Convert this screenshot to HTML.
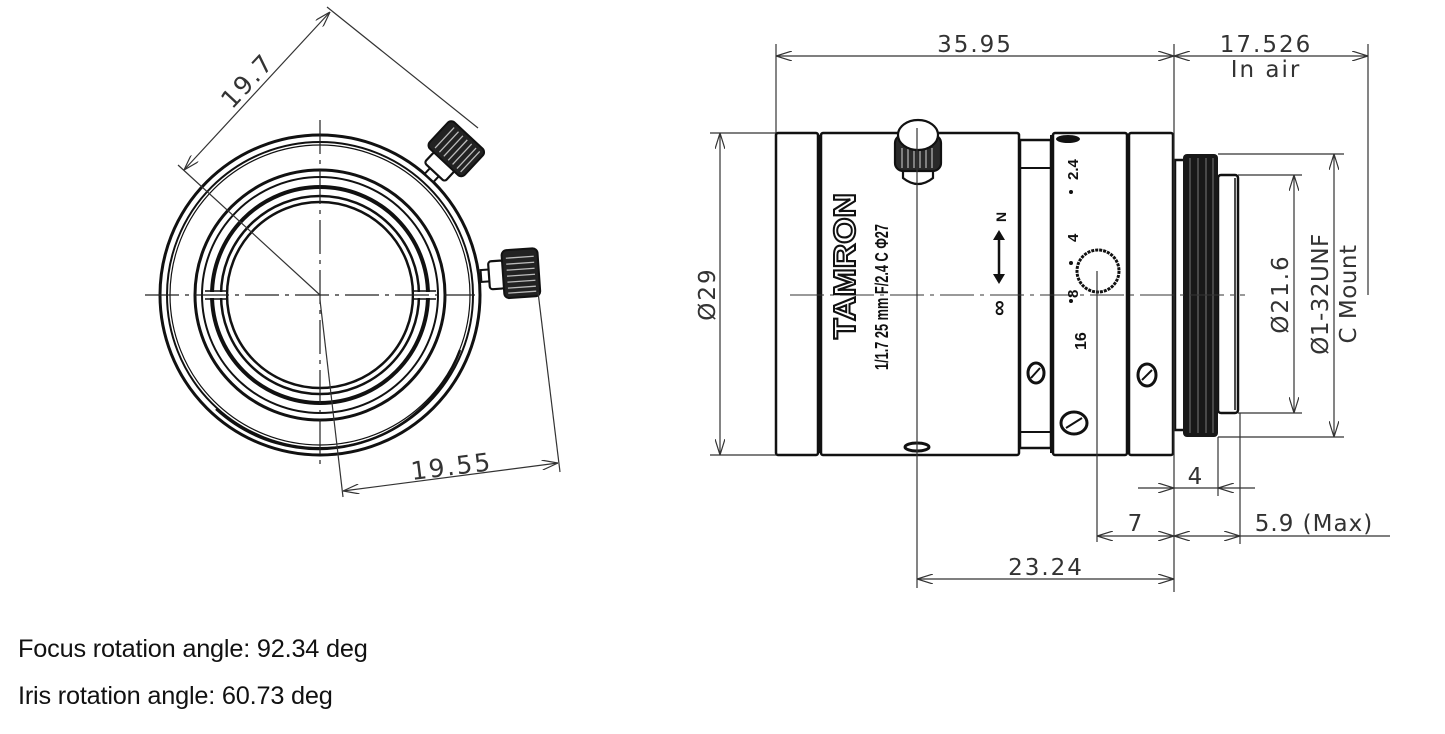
<!DOCTYPE html>
<html><head><meta charset="utf-8"><style>
html,body{margin:0;padding:0;background:#fff;width:1445px;height:734px;overflow:hidden}
svg{position:absolute;left:0;top:0}
.t{position:absolute;left:18px;font-family:"Liberation Sans",sans-serif;font-size:25.3px;color:#111;letter-spacing:-0.2px}
</style></head><body>
<svg width="1445" height="734" viewBox="0 0 1445 734" xmlns="http://www.w3.org/2000/svg">
<defs>
<marker id="a" viewBox="0 0 16 10" refX="16" refY="5" markerWidth="16" markerHeight="10" markerUnits="userSpaceOnUse" orient="auto-start-reverse">
<path d="M0,0 L16,5 L0,10" fill="none" stroke="#333" stroke-width="1.2"/></marker>
<g id="knob">
<rect x="0" y="-6" width="9" height="12" fill="#fff" stroke="#111" stroke-width="2"/>
<rect x="8" y="-14" width="15" height="28" rx="3" fill="#fff" stroke="#111" stroke-width="2.2"/>
<rect x="22" y="-24" width="36" height="48" rx="5" fill="#222" stroke="#111" stroke-width="2"/>
<g stroke="#bbb" stroke-width="1.3">
<line x1="26" y1="-16" x2="54" y2="-16"/><line x1="26" y1="-10" x2="54" y2="-10"/><line x1="26" y1="-4" x2="54" y2="-4"/><line x1="26" y1="2" x2="54" y2="2"/><line x1="26" y1="8" x2="54" y2="8"/><line x1="26" y1="14" x2="54" y2="14"/><line x1="26" y1="19" x2="54" y2="19"/>
</g></g>
</defs>

<!-- LEFT VIEW -->
<g fill="none" stroke="#111">
<circle cx="320" cy="295" r="160" stroke-width="3"/>
<circle cx="320" cy="295" r="153" stroke-width="2"/>
<circle cx="320" cy="295" r="150" stroke-width="1.2"/>
<circle cx="320" cy="295" r="125" stroke-width="3"/>
<circle cx="320" cy="295" r="118" stroke-width="2"/>
<circle cx="320" cy="295" r="108" stroke-width="4"/>
<circle cx="320" cy="295" r="99" stroke-width="2.5"/>
<circle cx="320" cy="295" r="93" stroke-width="2.5"/>
<path d="M216,409 A151 151 0 0 0 460 350" stroke-width="2.5"/>
</g>
<g stroke="#fff" stroke-width="6"><line x1="205" y1="295" x2="226" y2="295"/><line x1="414" y1="295" x2="436" y2="295"/></g>
<g stroke="#111" stroke-width="1.5"><line x1="205" y1="291" x2="226" y2="291"/><line x1="205" y1="299" x2="226" y2="299"/><line x1="414" y1="291" x2="436" y2="291"/><line x1="414" y1="299" x2="436" y2="299"/></g>
<g stroke="#222" stroke-width="1.2" stroke-dasharray="34,6,4,6" fill="none">
<line x1="145" y1="295" x2="475" y2="295"/>
<line x1="320" y1="120" x2="320" y2="470"/>
</g>
<use href="#knob" transform="translate(429,178) rotate(-47)"/>
<use href="#knob" transform="translate(481,276) rotate(-4)"/>
<!-- dims left -->
<g stroke="#333" stroke-width="1.2" fill="none">
<line x1="320" y1="295" x2="178" y2="165"/>
<line x1="327" y1="7" x2="478" y2="128"/>
<line x1="184" y1="170" x2="330" y2="12" marker-start="url(#a)" marker-end="url(#a)"/>
<line x1="320" y1="300" x2="343" y2="497"/>
<line x1="538" y1="292" x2="560" y2="472"/>
<line x1="343" y1="491" x2="558" y2="463" marker-start="url(#a)" marker-end="url(#a)"/>
</g>
<g font-family="'DejaVu Sans',sans-serif" font-size="25" fill="#333" letter-spacing="2">
<text transform="translate(232,110) rotate(-47)">19.7</text>
<text transform="translate(412,480) rotate(-7)">19.55</text>
</g>

<!-- RIGHT VIEW -->
<g fill="#fff" stroke="#111" stroke-width="2.5">
<rect x="1175" y="160" width="10" height="270"/>
<rect x="1218" y="175" width="20" height="238" rx="3"/>
<rect x="776" y="133" width="42" height="322" rx="2"/>
<rect x="821" y="133" width="198" height="322" rx="2"/>
<rect x="1020" y="140" width="31" height="308"/>
<rect x="1053" y="133" width="74" height="322" rx="2"/>
<rect x="1129" y="133" width="44" height="322" rx="2"/>
</g>
<rect x="1183" y="154" width="35" height="283" rx="4" fill="#181818"/>
<g stroke="#777" stroke-width="1"><line x1="1190" y1="158" x2="1190" y2="433"/><line x1="1198" y1="158" x2="1198" y2="433"/><line x1="1206" y1="158" x2="1206" y2="433"/><line x1="1213" y1="158" x2="1213" y2="433"/></g>
<line x1="1235" y1="178" x2="1235" y2="410" stroke="#111" stroke-width="1.5"/>
<g stroke="#111" stroke-width="2"><line x1="1020" y1="168" x2="1051" y2="168"/><line x1="1020" y1="432" x2="1051" y2="432"/></g>
<g stroke="#111" stroke-width="4"><line x1="819" y1="135" x2="819" y2="453"/><line x1="1052" y1="135" x2="1052" y2="453"/><line x1="1128" y1="135" x2="1128" y2="453"/></g>
<!-- top knob -->
<g stroke="#111" stroke-width="2.2">
<path d="M903,166 L903,178 Q918,190 933,178 L933,166" fill="#fff"/>
<rect x="895" y="135" width="46" height="36" rx="8" fill="#2a2a2a"/>
<g stroke="#bbb" stroke-width="1.2"><line x1="902" y1="148" x2="902" y2="168"/><line x1="908" y1="148" x2="908" y2="168"/><line x1="914" y1="148" x2="914" y2="168"/><line x1="920" y1="148" x2="920" y2="168"/><line x1="926" y1="148" x2="926" y2="168"/><line x1="932" y1="148" x2="932" y2="168"/></g>
<ellipse cx="918" cy="135" rx="20" ry="15" fill="#fff"/>
</g>
<ellipse cx="917" cy="447" rx="12" ry="4" fill="#fff" stroke="#111" stroke-width="3"/>
<ellipse cx="1068" cy="139" rx="12" ry="4" fill="#111"/>
<!-- iris knob -->
<circle cx="1098" cy="271" r="21" fill="#fff" stroke="#111" stroke-width="3" stroke-dasharray="3,1"/>
<!-- screws -->
<g fill="#fff" stroke="#111" stroke-width="3">
<ellipse cx="1036" cy="373" rx="8" ry="10"/><ellipse cx="1147" cy="375" rx="9" ry="11"/><ellipse cx="1074" cy="423" rx="13" ry="11"/>
</g>
<g stroke="#111" stroke-width="2"><line x1="1031" y1="378" x2="1040" y2="368"/><line x1="1142" y1="380" x2="1152" y2="370"/><line x1="1066" y1="428" x2="1082" y2="418"/></g>
<!-- center lines -->
<g stroke="#333" stroke-width="1.1" stroke-dasharray="34,6,4,6">
<line x1="790" y1="295" x2="1245" y2="295"/>
</g>
<!-- lens text -->
<g font-family="'Liberation Sans',sans-serif" font-weight="bold">
<text transform="translate(855,339) rotate(-90)" font-size="31" fill="#fff" stroke="#111" stroke-width="2" textLength="146" lengthAdjust="spacingAndGlyphs">TAMRON</text>
<text transform="translate(888,370) rotate(-90)" font-size="18" fill="#111" textLength="146" lengthAdjust="spacingAndGlyphs">1/1.7 25 mm F/2.4 C Φ27</text>
<text transform="translate(1006,316) rotate(-90)" font-size="22" fill="#111">∞</text>
<text transform="translate(1006,222) rotate(-90)" font-size="14" fill="#111">N</text>
<text transform="translate(1086,350) rotate(-90)" font-size="16" fill="#111">16</text>
<text transform="translate(1078,298) rotate(-90)" font-size="15" fill="#111">8</text>
<text transform="translate(1078,242) rotate(-90)" font-size="15" fill="#111">4</text>
<text transform="translate(1078,180) rotate(-90)" font-size="15" fill="#111">2.4</text>
</g>
<g stroke="#111" stroke-width="2.5"><line x1="999" y1="232" x2="999" y2="282"/></g>
<path d="M993,240 L999,230 L1005,240 Z M993,274 L999,284 L1005,274 Z" fill="#111"/>
<g fill="#111"><circle cx="1071" cy="192" r="2"/><circle cx="1071" cy="263" r="2"/><circle cx="1071" cy="301" r="2"/></g>
<!-- right dims -->
<g stroke="#333" stroke-width="1.2" fill="none">
<line x1="776" y1="44" x2="776" y2="133"/>
<line x1="1174" y1="44" x2="1174" y2="592"/>
<line x1="1368" y1="44" x2="1368" y2="295"/>
<line x1="776" y1="56" x2="1174" y2="56" marker-start="url(#a)" marker-end="url(#a)"/>
<line x1="1174" y1="56" x2="1368" y2="56" marker-start="url(#a)" marker-end="url(#a)"/>
<line x1="710" y1="133" x2="776" y2="133"/><line x1="710" y1="455" x2="776" y2="455"/>
<line x1="720" y1="133" x2="720" y2="455" marker-start="url(#a)" marker-end="url(#a)"/>
<line x1="1238" y1="175" x2="1302" y2="175"/><line x1="1238" y1="413" x2="1302" y2="413"/>
<line x1="1294" y1="175" x2="1294" y2="413" marker-start="url(#a)" marker-end="url(#a)"/>
<line x1="1218" y1="154" x2="1344" y2="154"/><line x1="1218" y1="437" x2="1344" y2="437"/>
<line x1="1334" y1="154" x2="1334" y2="437" marker-start="url(#a)" marker-end="url(#a)"/>
<line x1="917" y1="128" x2="917" y2="588"/>
<line x1="1097" y1="271" x2="1097" y2="542"/>
<line x1="1218" y1="437" x2="1218" y2="496"/>
<line x1="1240" y1="413" x2="1240" y2="544"/>
<line x1="1138" y1="488" x2="1174" y2="488" marker-end="url(#a)"/>
<line x1="1255" y1="488" x2="1218" y2="488" marker-end="url(#a)"/>
<line x1="1174" y1="488" x2="1218" y2="488"/>
<line x1="1097" y1="536" x2="1174" y2="536" marker-start="url(#a)" marker-end="url(#a)"/>
<line x1="1174" y1="536" x2="1240" y2="536" marker-start="url(#a)" marker-end="url(#a)"/>
<line x1="1240" y1="536" x2="1390" y2="536"/>
<line x1="917" y1="579" x2="1174" y2="579" marker-start="url(#a)" marker-end="url(#a)"/>
</g>
<g font-family="'DejaVu Sans',sans-serif" font-size="23" fill="#333" letter-spacing="2">
<text x="975" y="52" text-anchor="middle">35.95</text>
<text x="1266" y="52" text-anchor="middle">17.526</text>
<text x="1266" y="77" text-anchor="middle">In air</text>
<text x="1196" y="484" text-anchor="middle">4</text>
<text x="1136" y="531" text-anchor="middle">7</text>
<text x="1314" y="531" text-anchor="middle" letter-spacing="1">5.9 (Max)</text>
<text x="1046" y="575" text-anchor="middle">23.24</text>
<text transform="translate(715,294) rotate(-90)" text-anchor="middle">Ø29</text>
<text transform="translate(1288,294) rotate(-90)" text-anchor="middle">Ø21.6</text>
<text transform="translate(1328,294) rotate(-90)" text-anchor="middle" letter-spacing="0.5">Ø1-32UNF</text>
<text transform="translate(1356,294) rotate(-90)" text-anchor="middle" letter-spacing="0.5">C Mount</text>
</g>
</svg>
<div class="t" style="top:635px">Focus rotation angle: 92.34 deg</div>
<div class="t" style="top:682px">Iris rotation angle: 60.73 deg</div>
</body></html>
